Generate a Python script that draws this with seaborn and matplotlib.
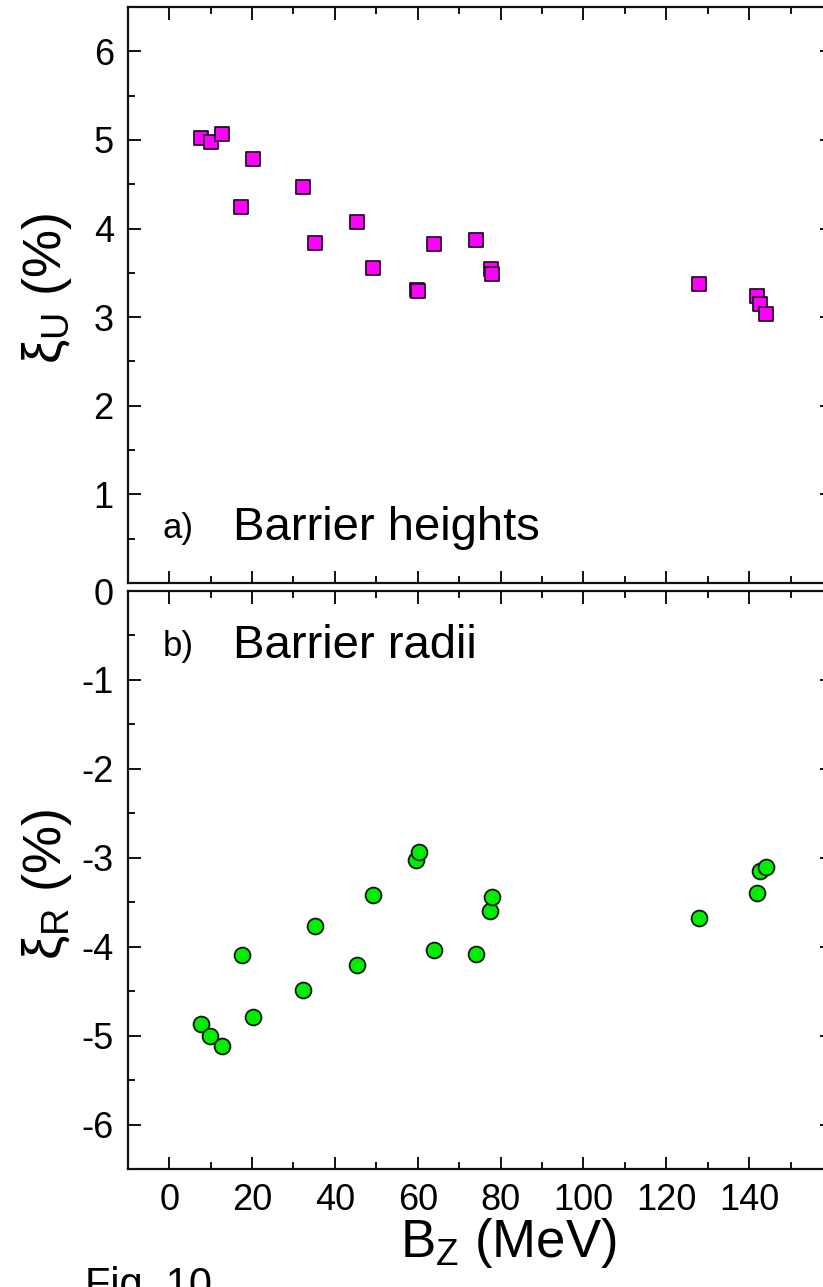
import numpy as np
import pandas as pd
import matplotlib
matplotlib.use("Agg")
import matplotlib.pyplot as plt
from matplotlib.ticker import MultipleLocator
import seaborn as sns

# Nuclear binding energy B_Z (MeV) of each system
bz_heights = [7.7, 10.0, 12.7, 17.4, 20.2, 32.3, 35.2, 45.4, 49.3, 59.8, 60.1,
              63.9, 74.1, 77.6, 78.0, 127.9, 141.9, 142.7, 144.0]
# Relative deviation of barrier heights xi_U (%)
xi_u = [5.02, 4.98, 5.07, 4.24, 4.79, 4.47, 3.84, 4.07, 3.55, 3.31, 3.30,
        3.83, 3.87, 3.54, 3.49, 3.37, 3.24, 3.15, 3.04]

bz_radii = [7.8, 9.9, 12.7, 17.6, 20.2, 32.3, 35.2, 45.4, 49.3, 59.7, 60.2,
            63.9, 74.1, 77.4, 77.9, 127.9, 141.9, 142.7, 144.0]
# Relative deviation of barrier radii xi_R (%)
xi_r = [-4.87, -5.00, -5.12, -4.09, -4.79, -4.49, -3.77, -4.21, -3.42, -3.03, -2.94,
        -4.04, -4.08, -3.60, -3.44, -3.68, -3.40, -3.15, -3.10]

x_ticks = [0, 20, 40, 60, 80, 100, 120, 140]
top_y_ticks = [1, 2, 3, 4, 5, 6]
bottom_y_ticks = [0, -1, -2, -3, -4, -5, -6]

heights = pd.DataFrame({"Bz": bz_heights, "xi": xi_u})
radii = pd.DataFrame({"Bz": bz_radii, "xi": xi_r})

sns.set_theme(style="ticks")
plt.rcParams["font.family"] = ["Liberation Sans", "DejaVu Sans"]
plt.rcParams["mathtext.fontset"] = "custom"
plt.rcParams["mathtext.rm"] = "Liberation Sans"
plt.rcParams["mathtext.it"] = "Liberation Sans:italic"
plt.rcParams["axes.unicode_minus"] = False
plt.rcParams["text.color"] = "black"
plt.rcParams["axes.labelcolor"] = "black"

W, H = 823, 1287
fig = plt.figure(figsize=(W / 100, H / 100), dpi=100)
left = 127.7 / W
width = (832 - 127.7) / W
ax_top = fig.add_axes([left, 1 - 583 / H, width, 576 / H])
ax_bot = fig.add_axes([left, 1 - 1169 / H, width, 578 / H])

sns.scatterplot(data=heights, x="Bz", y="xi", ax=ax_top, marker="s", s=105,
                color="#FF00FF", edgecolor="#2a0a2a", linewidth=1.3, zorder=3)
sns.scatterplot(data=radii, x="Bz", y="xi", ax=ax_bot, marker="o", s=130,
                color="#00EE00", edgecolor="#0a1a0a", linewidth=1.3, zorder=3)

for ax in (ax_top, ax_bot):
    ax.set_xlim(-10, 160)
    ax.xaxis.set_major_locator(MultipleLocator(20))
    ax.xaxis.set_minor_locator(MultipleLocator(10))
    ax.yaxis.set_minor_locator(MultipleLocator(0.5))
    ax.tick_params(which="both", direction="in", top=True, right=True,
                   width=1.4, color="#111111", labelcolor="black",
                   labelsize=26, pad=10)
    ax.tick_params(which="major", length=9)
    ax.tick_params(which="minor", length=5)
    for sp in ax.spines.values():
        sp.set_linewidth(1.6)
        sp.set_color("#111111")

ax_top.set_ylim(0, 6.5)
ax_top.set_yticks(top_y_ticks)
ax_top.tick_params(axis="x", labelbottom=False)
ax_top.set_xlabel("")
ax_top.set_ylabel(r"ξ$_{\rm U}$ (%)", fontsize=39)
ax_top.yaxis.set_label_coords(-0.076, 0.512)

ax_bot.set_ylim(-6.5, 0)
ax_bot.set_yticks(bottom_y_ticks)
ax_bot.set_xticks(x_ticks)
ax_bot.set_ylabel(r"ξ$_{\rm R}$ (%)", fontsize=39)
ax_bot.yaxis.set_label_coords(-0.076, 0.493)
ax_bot.set_xlabel(r"B$_{\rm Z}$ (MeV)", fontsize=38)
ax_bot.xaxis.set_label_coords(0.540, -0.082)

ax_top.text(-1.5, 0.62, "a)", fontsize=25, va="center", ha="left")
ax_top.text(15.4, 0.62, "Barrier heights", fontsize=34, va="center", ha="left")
ax_bot.text(-1.5, -0.62, "b)", fontsize=25, va="center", ha="left")
ax_bot.text(15.4, -0.62, "Barrier radii", fontsize=34, va="center", ha="left")

fig.text(85 / W, -0.008, "Fig. 10", fontsize=30, ha="left", va="baseline")

fig.savefig("out.png", dpi=100)
